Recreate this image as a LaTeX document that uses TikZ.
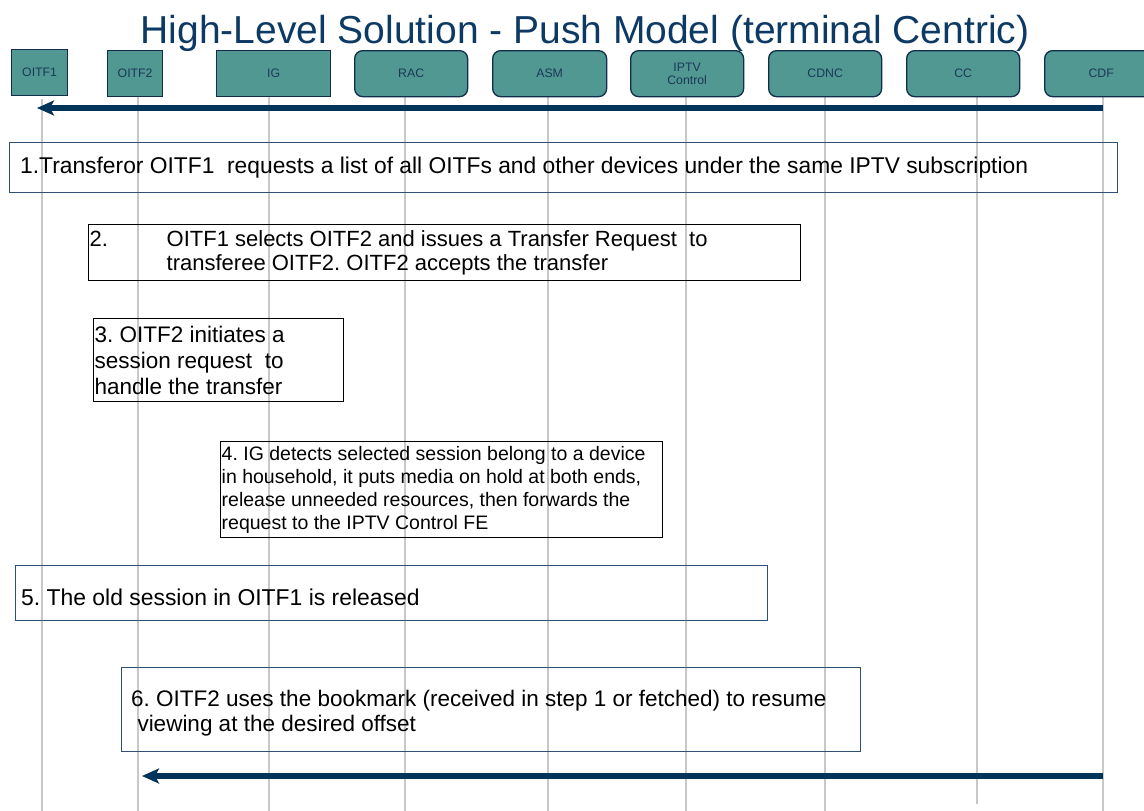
\documentclass[tikz,border=0pt]{standalone}
\usepackage{fontspec}
\setmainfont{Liberation Sans}
\usetikzlibrary{arrows.meta}
\definecolor{titleblue}{RGB}{12,58,100}
\definecolor{hdrfill}{RGB}{82,152,146}
\definecolor{hdrline}{RGB}{16,46,76}
\definecolor{hdrtext}{RGB}{26,56,88}
\definecolor{arrowblue}{RGB}{0,52,90}
\definecolor{lifegray}{RGB}{200,200,200}
\definecolor{boxblue}{RGB}{45,80,115}
\frenchspacing
\begin{document}
\begin{tikzpicture}[x=1pt,y=-1pt,
  hdr/.style={draw=hdrline, line width=1.3pt, fill=hdrfill, text=hdrtext,
    font=\fontsize{12.3}{13.5}\selectfont, align=center, anchor=north west,
    inner sep=0pt, minimum height=46pt},
  hdrr/.style={hdr, rounded corners=8pt},
  life/.style={draw=lifegray, line width=1.1pt},
  msg/.style={draw=arrowblue, line width=5.5pt, -{Stealth[length=17pt,width=15pt,inset=4pt]}},
  notebox/.style={draw, line width=1.2pt, anchor=north west, inner sep=0pt},
  notetext/.style={anchor=west, align=left, inner sep=0pt, font=\fontsize{22.5}{26}\selectfont},
]
\useasboundingbox (0,0) rectangle (1144,811);
\fill[white] (0,0) rectangle (1144,811);

% lifelines
\coordinate (l1t) at (42,99);   \coordinate (l1b) at (42,811);
\coordinate (l2t) at (138,96);  \coordinate (l2b) at (138,811);
\coordinate (l3t) at (269,96);  \coordinate (l3b) at (269,811);
\coordinate (l4t) at (405,96);  \coordinate (l4b) at (405,811);
\coordinate (l5t) at (548,96);  \coordinate (l5b) at (548,811);
\coordinate (l6t) at (686,96);  \coordinate (l6b) at (686,811);
\coordinate (l7t) at (825,96);  \coordinate (l7b) at (825,811);
\coordinate (l8t) at (977,96);  \coordinate (l8b) at (977,804);
\coordinate (l9t) at (1103,96); \coordinate (l9b) at (1103,811);
\foreach \i in {1,...,9} { \draw[life] (l\i t) -- (l\i b); }

% header boxes
\node[hdr, minimum width=56pt] (oitf1) at (11,49) {\raisebox{-3pt}{OITF1}};
\node[hdr, minimum width=55pt] (oitf2) at (107,50) {OITF2};
\node[hdr, minimum width=114pt] (ig) at (216,50) {IG};
\node[hdrr, minimum width=113pt] (rac) at (354,50) {RAC};
\node[hdrr, minimum width=114pt] (asm) at (492,50) {ASM};
\node[hdrr, minimum width=113pt] (iptv) at (630,50) {IPTV\\Control};
\node[hdrr, minimum width=113pt] (cdnc) at (768,50) {CDNC};
\node[hdrr, minimum width=113pt] (cc) at (906,50) {CC};
\node[hdrr, minimum width=113pt] (cdf) at (1044,50) {CDF};

% title
\node[font=\fontsize{39}{47}\selectfont, text=titleblue, anchor=base, inner sep=0pt] (title) at (585,43) {High-Level Solution - Push Model (terminal Centric)};

% messages
\coordinate (m1s) at (1103,108); \coordinate (m1e) at (37,108);
\draw[msg] (m1s) -- (m1e);
\coordinate (m2s) at (1103,776); \coordinate (m2e) at (142,776);
\draw[msg] (m2s) -- (m2e);

% note boxes
\node[notebox, draw=boxblue, minimum width=1108pt, minimum height=50pt] (s1) at (9,142) {};
\node[notetext, font=\fontsize{22.8}{26}\selectfont] (t1) at ([xshift=11pt]s1.west) {1.Transferor OITF1~ requests a list of all OITFs and other devices under the same IPTV subscription};

\node[notebox, draw=black, minimum width=712pt, minimum height=56pt] (s2) at (88,224) {};
\node[notetext, font=\fontsize{22}{23.5}\selectfont] (t2) at ([xshift=1.5pt]s2.west) {\makebox[77pt][l]{2.}OITF1 selects OITF2 and issues a Transfer Request~ to\\\hspace*{77pt}transferee OITF2. OITF2 accepts the transfer};

\node[notebox, draw=black, minimum width=250pt, minimum height=83pt] (s3) at (93,318) {};
\node[notetext] (t3) at ([xshift=1.5pt]s3.west) {3. OITF2 initiates a\\session request~ to\\handle the transfer};

\node[notebox, draw=black, minimum width=442pt, minimum height=96pt] (s4) at (220,441) {};
\node[notetext, font=\fontsize{19.5}{23}\selectfont] (t4) at ([xshift=1.5pt]s4.west) {4. IG detects selected session belong to a device\\in household, it puts media on hold at both ends,\\release unneeded resources, then forwards the\\request to the IPTV Control FE};

\node[notebox, draw=boxblue, minimum width=752pt, minimum height=55pt] (s5) at (15,565) {};
\node[notetext, font=\fontsize{22.9}{26}\selectfont] (t5) at ([xshift=6pt,yshift=-4pt]s5.west) {5. The old session in OITF1 is released};

\node[notebox, draw=boxblue, minimum width=739pt, minimum height=84pt] (s6) at (121,667) {};
\node[notetext, font=\fontsize{22.5}{25}\selectfont] (t6) at ([xshift=10pt,yshift=-4pt]s6.west) {6. OITF2 uses the bookmark (received in step 1 or fetched) to resume\\\hspace*{0.28em}viewing at the desired offset};
\end{tikzpicture}
\end{document}
